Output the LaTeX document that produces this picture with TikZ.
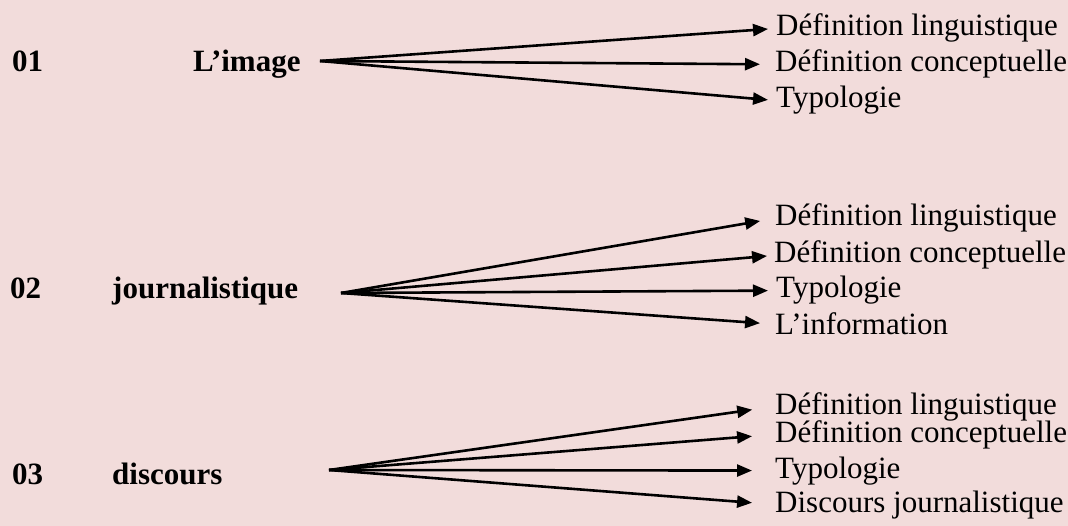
\documentclass[tikz,border=0pt]{standalone}
\usepackage{fontspec}
\setmainfont{Liberation Serif}
\usetikzlibrary{arrows.meta,positioning}
\definecolor{bgpink}{HTML}{F2DCDB}
\tikzset{
  topic/.style={anchor=base west, inner sep=0pt, font=\fontsize{31bp}{33bp}\selectfont\bfseries},
  item/.style={anchor=base west, inner sep=0pt, font=\fontsize{31bp}{33bp}\selectfont},
  branch/.style={-{Triangle[length=15bp,width=12bp]}, line width=2.6bp, shorten >=#1},
}

\begin{document}
\begin{tikzpicture}[x=1bp, y=-1bp]
% background
\fill[bgpink] (0,0) rectangle (1068,526);
\useasboundingbox (0,0) rectangle (1068,526);

% nodes
\node[topic] (n1) at (12,72) {01};
\node[topic] (t1) at (193,72) {L’image};
\coordinate (s1) at (320,61);
\node[item] (d11) at (776,36) {Définition linguistique};
\node[item] (d12) at (775,72) {Définition conceptuelle};
\node[item] (d13) at (776,108) {Typologie};

\node[topic] (n2) at (10,299) {02};
\node[topic] (t2) at (112,299) {journalistique};
\coordinate (s2) at (341,293);
\node[item] (d21) at (775,226) {Définition linguistique};
\node[item] (d22) at (774,263) {Définition conceptuelle};
\node[item] (d23) at (776,298) {Typologie};
\node[item] (d24) at (775,335) {L’information};

\node[topic] (n3) at (12,484) {03};
\node[topic] (t3) at (112,484) {discours};
\coordinate (s3) at (329,470);
\node[item] (d31) at (775,414) {Définition linguistique};
\node[item] (d32) at (775,442) {Définition conceptuelle};
\node[item] (d33) at (775,478) {Typologie};
\node[item] (d34) at (775,512) {Discours journalistique};

% arrows
\draw[branch=8bp] (s1) -- (d11.west);
\draw[branch=15bp] (s1) -- (d12.west);
\draw[branch=8bp] (s1) -- (d13.west);

\draw[branch=15bp] (s2) -- (d21.west);
\draw[branch=7bp] (s2) -- (d22.west);
\draw[branch=8bp] (s2) -- (d23.west);
\draw[branch=15bp] (s2) -- (d24.west);

\draw[branch=23bp] (s3) -- (d31.west);
\draw[branch=23bp] (s3) -- (d32.west);
\draw[branch=23bp] (s3) -- (d33.west);
\draw[branch=23bp] (s3) -- (d34.west);

\end{tikzpicture}
\end{document}
